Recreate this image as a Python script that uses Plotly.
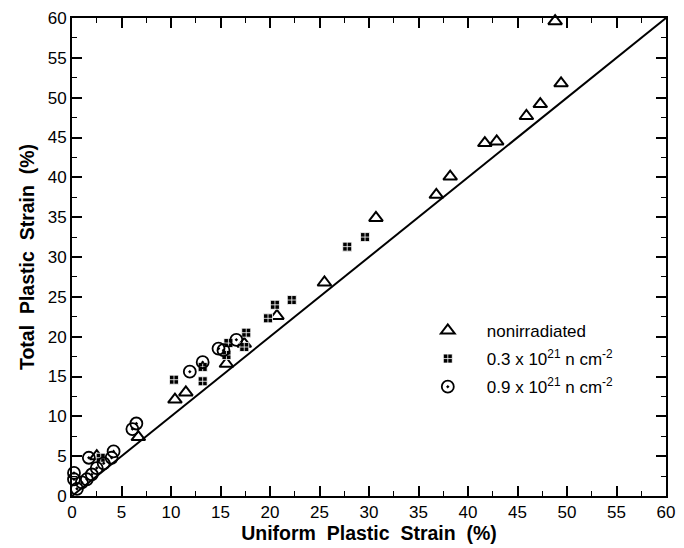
import plotly.graph_objects as go

# Nonirradiated specimens
non_x = [2.5, 6.7, 10.4, 11.5, 15.6, 17.4, 20.7, 25.5, 30.7, 36.8, 38.2, 41.7, 42.9, 45.9, 47.3, 49.4, 48.8]
non_y = [5.0, 7.4, 12.1, 13.0, 16.6, 19.1, 22.6, 26.8, 34.9, 37.8, 40.1, 44.3, 44.5, 47.7, 49.2, 51.8, 59.6]

# 0.3 x 10^21 n cm^-2
low_x = [2.9, 10.3, 13.2, 13.2, 15.6, 15.8, 17.4, 17.6, 19.8, 20.5, 22.2, 27.8, 29.6]
low_y = [4.8, 14.6, 14.4, 16.2, 17.7, 19.2, 18.7, 20.5, 22.3, 24.0, 24.6, 31.3, 32.5]

# 0.9 x 10^21 n cm^-2
high_x = [0.2, 0.2, 0.5, 1.0, 1.5, 2.0, 2.5, 1.7, 3.2, 4.0, 4.2, 6.1, 6.5, 11.9, 13.2, 14.8, 15.3, 16.6]
high_y = [2.9, 2.1, 0.9, 1.7, 2.1, 2.7, 3.5, 4.8, 4.1, 4.8, 5.6, 8.4, 9.1, 15.6, 16.8, 18.5, 18.3, 19.6]

# Equality line (total = uniform)
line_x = [0, 60]
line_y = [0, 60]

tick_vals = list(range(0, 61, 5))

FONT = "Liberation Sans, Arial, Helvetica, sans-serif"
GAP = "\u00a0 "  # slightly widened word spacing in the axis titles

fig = go.Figure()

fig.add_trace(go.Scatter(
    x=line_x, y=line_y, mode="lines",
    line=dict(color="black", width=2), showlegend=False, hoverinfo="skip",
))

fig.add_trace(go.Scatter(
    x=non_x, y=non_y, mode="markers", name="nonirradiated", legendgroup="a",
    marker=dict(symbol="triangle-up-open", size=12, color="black", line=dict(width=2)),
    cliponaxis=False,
))
fig.add_trace(go.Scatter(
    x=low_x, y=low_y, mode="markers", legendgroup="b",
    name="0.3 x 10<sup>21</sup> n cm<sup>-2</sup>",
    marker=dict(symbol="square-cross", size=9, color="black", line=dict(color="white", width=0.8)),
    cliponaxis=False,
))
fig.add_trace(go.Scatter(
    x=high_x, y=high_y, mode="markers", legendgroup="c",
    name="0.9 x 10<sup>21</sup> n cm<sup>-2</sup>",
    marker=dict(symbol="circle-open-dot", size=12, color="black", line=dict(width=1.8)),
    cliponaxis=False,
))

axis_common = dict(
    range=[0, 60],
    tickvals=tick_vals,
    ticks="inside", ticklen=10, tickwidth=1.5, tickcolor="black",
    minor=dict(dtick=2.5, ticks="inside", ticklen=5, tickwidth=1.2, tickcolor="black"),
    showline=True, linecolor="black", linewidth=2, mirror="ticks",
    showgrid=False, zeroline=False,
    tickfont=dict(family=FONT, size=17, color="black"),
)

fig.update_xaxes(
    **axis_common,
    title=dict(text="<b>Uniform" + GAP + "Plastic" + GAP + "Strain" + GAP + "(%)</b>",
               font=dict(family=FONT, size=19.5, color="black"),
               standoff=3),
)
fig.update_yaxes(
    **axis_common,
    title=dict(text="<b>Total" + GAP + "Plastic" + GAP + "Strain" + GAP + "(%)</b>",
               font=dict(family=FONT, size=19.5, color="black"),
               standoff=8),
)

fig.update_layout(
    width=684, height=548,
    margin=dict(l=72, r=16, t=9, b=51),
    plot_bgcolor="white", paper_bgcolor="white",
    legend=dict(
        x=0.567, y=0.383, xanchor="left", yanchor="top",
        bgcolor="rgba(0,0,0,0)",
        font=dict(family=FONT, size=17, color="black"),
        tracegroupgap=3,
        itemwidth=68,
    ),
)

fig.write_html("out.html")
